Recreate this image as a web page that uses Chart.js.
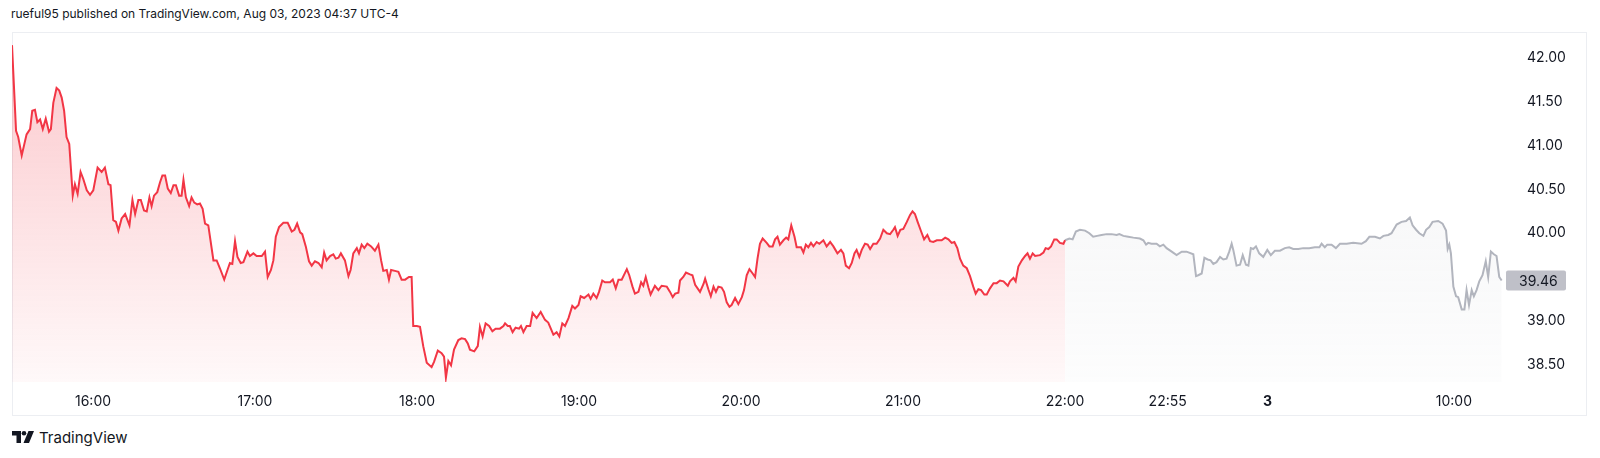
<!DOCTYPE html>
<html>
<head>
<meta charset="utf-8">
<script src="https://cdn.jsdelivr.net/npm/chart.js@4.4.1/dist/chart.umd.min.js"></script>
<style>
  html, body { margin: 0; padding: 0; background: #ffffff; }
  body { width: 1600px; height: 458px; position: relative; overflow: hidden; font-family: Inter, "Noto Sans", sans-serif; color: #131722; }
  #header { position: absolute; left: 11px; top: 5px; font-size: 12px; line-height: 18px; white-space: nowrap; }
  #frame { position: absolute; left: 12px; top: 32px; width: 1575px; height: 384px; box-sizing: border-box; border: 1px solid #eceef2; }
  #chartBox { position: absolute; left: 12px; top: 32px; width: 1575px; height: 384px; }
  #footer { position: absolute; left: 12px; top: 427px; height: 20px; display: flex; align-items: center; font-size: 15px; font-weight: 400; }
  #footer svg { margin-right: 5px; }
</style>
</head>
<body>
<div id="header">rueful95 published on TradingView.com, Aug 03, 2023 04:37 UTC-4</div>
<div id="frame"></div>
<div id="chartBox"><canvas id="priceChart" width="1575" height="384"></canvas></div>
<div id="footer">
  <svg width="22" height="12" viewBox="0 0 22 12"><path d="M0 0h9v12H4.5V4.5H0z" fill="#131722"/><circle cx="12" cy="2.3" r="2.3" fill="#131722"/><path d="M16.5 0H22l-5 12h-5.5z" fill="#131722"/></svg>
  <span>TradingView</span>
</div>
<script>
// sumbu waktu: menit sejak 15:30 (skala bar TradingView, sesi malam dipadatkan)
const redTime = [0, 1.5, 2.3, 3.6, 5.4, 6.7, 7.5, 8.5, 9.4, 10.4, 11.4, 12.5, 13.7, 14.4, 15.3, 16.5, 17.5, 18.4, 19.3, 20.2,
  21.2, 22.5, 23.3, 24.3, 25.4, 26.4, 27.7, 28.9, 30.1, 31.7, 33.2, 34.4, 35.7, 36.5, 37.5, 38.5, 39.4, 40.6, 41.9, 43.5,
  44.6, 45.6, 46.8, 47.7, 48.9, 49.9, 50.9, 51.7, 52.6, 53.8, 54.8, 55.7, 56.7, 57.7, 58.8, 59.8, 60.7, 61.9, 62.8, 63.5,
  64.4, 65.6, 66.5, 67.5, 68.6, 69.6, 70.6, 71.5, 72.7, 74.6, 75.8, 77.0, 78.6, 79.8, 80.7, 81.6, 82.6, 83.5, 84.7, 85.7,
  87.2, 88.1, 89.4, 90.6, 92.5, 93.7, 94.7, 95.9, 96.8, 97.7, 98.9, 100.5, 102.1, 103.6, 104.6, 105.6, 106.7, 107.5, 108.8, 110.0,
  111.0, 112.2, 113.5, 114.7, 115.6, 116.5, 117.8, 119.0, 119.9, 120.9, 121.8, 123.3, 124.6, 125.4, 126.4, 127.7, 128.5, 129.5, 130.5, 131.6,
  133.0, 134.4, 135.7, 136.7, 137.5, 138.8, 139.6, 140.4, 141.8, 143.1, 144.3, 145.6, 147.0, 148.0, 148.6, 149.9, 151.1, 152.3, 153.6, 155.4,
  156.3, 157.7, 159.1, 160.0, 160.7, 161.6, 162.6, 163.7, 165.3, 166.5, 167.8, 168.8, 169.6, 171.2, 172.5, 173.3, 174.3, 175.4, 176.7, 177.9,
  179.1, 180.7, 182.0, 182.6, 183.6, 184.4, 185.4, 186.5, 187.8, 188.5, 189.4, 190.6, 191.9, 192.8, 194.3, 195.8, 197.4, 198.6, 200.5, 201.7,
  202.7, 203.8, 204.8, 206.1, 207.5, 208.5, 209.8, 210.6, 211.9, 213.5, 214.3, 215.3, 216.5, 217.4, 218.6, 219.6, 221.5, 222.5, 223.6, 224.6,
  225.8, 227.7, 228.6, 229.8, 230.7, 232.0, 233.0, 233.8, 234.7, 235.7, 236.5, 238.1, 239.4, 240.6, 242.5, 243.7, 244.7, 245.6, 246.8, 247.4,
  248.6, 249.6, 251.1, 252.0, 253.0, 254.8, 256.1, 256.7, 257.9, 258.8, 259.8, 260.7, 261.6, 262.8, 263.7, 264.7, 265.7, 266.5, 267.8, 269.0,
  270.3, 271.1, 272.1, 273.1, 274.3, 275.2, 276.1, 277.0, 278.0, 279.5, 280.5, 281.7, 282.6, 283.5, 284.4, 285.7, 286.7, 287.5, 288.6, 289.8,
  290.6, 292.2, 293.1, 294.0, 294.9, 295.9, 296.8, 298.0, 299.0, 300.5, 301.7, 303.0, 304.2, 305.7, 307.0, 307.9, 308.8, 310.0, 311.0, 312.0,
  312.8, 313.8, 314.7, 315.9, 316.9, 317.8, 319.0, 320.2, 321.5, 322.7, 324.0, 325.2, 326.4, 327.0, 328.0, 329.0, 330.1, 331.4, 332.6, 333.5,
  334.4, 335.4, 336.7, 337.8, 339.0, 340.0, 341.2, 342.5, 344.3, 345.6, 346.8, 348.0, 349.0, 350.1, 351.1, 352.3, 353.6, 354.8, 356.0, 356.9,
  357.9, 358.9, 360.1, 361.0, 362.2, 363.5, 364.7, 365.9, 367.2, 368.8, 369.6, 370.9, 371.7, 372.7, 374.0, 375.2, 376.1, 377.0, 378.0, 378.9,
  380.7, 382.0, 382.8, 383.8, 384.8, 386.0, 386.9, 388.1, 389.4, 390.0];
const redPrice = [42.15, 41.17, 41.10, 40.89, 41.13, 41.19, 41.40, 41.41, 41.27, 41.30, 41.19, 41.31, 41.16, 41.19, 41.49, 41.66, 41.63, 41.55, 41.40, 41.10,
  41.02, 40.43, 40.56, 40.45, 40.70, 40.62, 40.49, 40.44, 40.49, 40.75, 40.70, 40.75, 40.56, 40.55, 40.15, 40.13, 40.03, 40.17, 40.22, 40.09,
  40.38, 40.22, 40.38, 40.38, 40.26, 40.25, 40.41, 40.31, 40.43, 40.47, 40.58, 40.66, 40.66, 40.51, 40.46, 40.55, 40.55, 40.43, 40.43, 40.61,
  40.41, 40.31, 40.41, 40.35, 40.33, 40.34, 40.28, 40.11, 40.09, 39.69, 39.69, 39.60, 39.47, 39.58, 39.66, 39.65, 39.91, 39.73, 39.66, 39.67,
  39.79, 39.74, 39.77, 39.74, 39.74, 39.79, 39.50, 39.58, 39.69, 39.96, 40.07, 40.12, 40.12, 40.02, 40.04, 40.11, 40.01, 39.99, 39.85, 39.68,
  39.63, 39.68, 39.66, 39.61, 39.78, 39.69, 39.74, 39.76, 39.71, 39.72, 39.77, 39.69, 39.51, 39.58, 39.77, 39.83, 39.77, 39.87, 39.83, 39.88,
  39.85, 39.80, 39.87, 39.69, 39.57, 39.58, 39.47, 39.58, 39.57, 39.56, 39.47, 39.47, 39.50, 39.50, 38.94, 38.94, 38.93, 38.71, 38.52, 38.47,
  38.53, 38.66, 38.63, 38.59, 38.35, 38.54, 38.49, 38.67, 38.78, 38.80, 38.79, 38.74, 38.67, 38.65, 38.71, 38.93, 38.82, 38.97, 38.94, 38.88,
  38.91, 38.91, 38.94, 38.97, 38.94, 38.94, 38.87, 38.92, 38.91, 38.94, 38.87, 38.94, 38.94, 39.09, 39.03, 39.10, 39.01, 38.98, 38.84, 38.87,
  38.82, 38.97, 38.94, 39.03, 39.17, 39.14, 39.18, 39.28, 39.26, 39.30, 39.25, 39.31, 39.26, 39.33, 39.46, 39.44, 39.44, 39.47, 39.37, 39.47,
  39.47, 39.59, 39.52, 39.39, 39.31, 39.33, 39.44, 39.40, 39.50, 39.38, 39.30, 39.40, 39.35, 39.40, 39.39, 39.33, 39.27, 39.31, 39.32, 39.46,
  39.50, 39.55, 39.53, 39.52, 39.41, 39.33, 39.42, 39.48, 39.36, 39.28, 39.39, 39.33, 39.39, 39.38, 39.33, 39.21, 39.16, 39.18, 39.26, 39.19,
  39.27, 39.35, 39.52, 39.59, 39.54, 39.50, 39.71, 39.88, 39.94, 39.89, 39.85, 39.85, 39.93, 39.96, 39.87, 39.92, 39.95, 39.93, 40.09, 39.96,
  39.84, 39.84, 39.78, 39.87, 39.84, 39.89, 39.85, 39.90, 39.88, 39.92, 39.85, 39.90, 39.85, 39.77, 39.81, 39.77, 39.63, 39.60, 39.66, 39.77,
  39.81, 39.73, 39.81, 39.88, 39.87, 39.82, 39.88, 39.88, 39.94, 40.04, 40.00, 39.99, 40.04, 40.07, 39.97, 40.04, 40.05, 40.13, 40.21, 40.25,
  40.22, 40.13, 40.02, 39.93, 39.98, 39.91, 39.90, 39.92, 39.92, 39.95, 39.93, 39.89, 39.90, 39.83, 39.71, 39.63, 39.60, 39.51, 39.39, 39.31,
  39.36, 39.35, 39.30, 39.30, 39.37, 39.43, 39.43, 39.46, 39.45, 39.40, 39.45, 39.49, 39.45, 39.62, 39.69, 39.74, 39.77, 39.71, 39.77, 39.74,
  39.75, 39.78, 39.83, 39.82, 39.85, 39.93, 39.93, 39.89, 39.88, 39.92];

const grayTime = [390.0, 391.6, 392.8, 394.0, 395.5, 397.4, 399.0, 400.4, 401.9, 403.5, 405.4, 407.2, 409.1, 410.1, 411.6, 413.4, 415.3, 417.7, 419.0, 420.0,
  420.8, 422.0, 423.9, 425.1, 426.4, 427.6, 429.5, 431.3, 433.2, 435.0, 437.5, 438.5, 439.3, 440.6, 441.6, 442.8, 443.9, 444.9, 446.1, 447.4,
  448.6, 449.8, 450.8, 451.7, 452.3, 453.5, 454.8, 455.8, 457.0, 457.9, 458.8, 459.7, 460.7, 461.9, 463.4, 464.9, 466.2, 467.7, 469.6, 471.4,
  473.0, 474.5, 476.4, 478.2, 480.4, 482.5, 484.2, 485.0, 486.2, 487.1, 488.7, 490.3, 491.8, 494.3, 496.7, 499.8, 501.4, 502.7, 504.8, 506.6,
  507.9, 509.7, 510.9, 512.8, 514.6, 516.3, 517.7, 518.7, 520.0, 521.2, 522.7, 523.7, 524.9, 526.1, 528.2, 529.8, 531.1, 531.7, 532.3, 532.9,
  533.8, 534.8, 535.6, 536.9, 537.9, 538.7, 539.6, 540.6, 541.4, 542.4, 543.4, 544.6, 545.8, 546.7, 547.7, 548.8, 549.8, 550.8, 551.7];
const grayPrice = [39.92, 39.94, 39.93, 40.02, 40.04, 40.03, 40.00, 39.96, 39.97, 39.98, 39.99, 39.99, 39.98, 39.99, 39.97, 39.96, 39.95, 39.94, 39.92, 39.87,
  39.89, 39.88, 39.88, 39.85, 39.87, 39.83, 39.79, 39.75, 39.79, 39.79, 39.76, 39.51, 39.52, 39.54, 39.72, 39.70, 39.69, 39.65, 39.67, 39.73,
  39.70, 39.71, 39.79, 39.88, 39.81, 39.63, 39.64, 39.75, 39.64, 39.63, 39.83, 39.82, 39.85, 39.77, 39.73, 39.81, 39.75, 39.80, 39.80, 39.83,
  39.84, 39.82, 39.82, 39.83, 39.83, 39.84, 39.84, 39.88, 39.84, 39.87, 39.87, 39.83, 39.88, 39.88, 39.89, 39.88, 39.91, 39.96, 39.96, 39.94,
  39.97, 39.98, 40.00, 40.10, 40.13, 40.14, 40.18, 40.09, 40.04, 40.00, 39.97, 40.04, 40.07, 40.13, 40.14, 40.11, 40.03, 39.82, 39.87, 39.77,
  39.39, 39.28, 39.27, 39.13, 39.13, 39.35, 39.18, 39.35, 39.28, 39.35, 39.45, 39.52, 39.68, 39.50, 39.79, 39.76, 39.74, 39.50, 39.46];

const timeTicks = [30, 90, 150, 210, 270, 330, 390, 428, 465, 534];
const timeLabels = ['16:00', '17:00', '18:00', '19:00', '20:00', '21:00', '22:00', '22:55', '3', '10:00'];
// 39.50 tidak tampil karena tertutup label harga terakhir
const priceTicks = [38.5, 39, 40, 40.5, 41, 41.5, 42];
const lastPrice = 39.46;

const FONT = 'Inter, "Noto Sans", sans-serif';
const RED = '#f23645';
const GRAY = '#b2b5be';

function toPoints(times, prices) {
    return times.map((t, i) => ({ x: t, y: prices[i] }));
}

function areaGradient(rgb, topA, botA) {
    return function(context) {
        const chart = context.chart;
        const area = chart.chartArea;
        if (!area) return null;
        const g = chart.ctx.createLinearGradient(0, area.top, 0, area.bottom);
        g.addColorStop(0, `rgba(${rgb},${topA})`);
        g.addColorStop(1, `rgba(${rgb},${botA})`);
        return g;
    };
}

// label harga terakhir di sumbu kanan
const lastPriceBadge = {
    id: 'lastPriceBadge',
    afterDraw(chart) {
        const ctx = chart.ctx;
        const y = chart.scales.y.getPixelForValue(lastPrice);
        const x = chart.chartArea.right;
        ctx.save();
        ctx.fillStyle = '#bfc0c8';
        ctx.beginPath();
        ctx.roundRect(x, y - 10, 60, 20, 2);
        ctx.fill();
        ctx.fillStyle = '#131722';
        ctx.font = '14px ' + FONT;
        ctx.textBaseline = 'middle';
        ctx.fillText(lastPrice.toFixed(2), x + 13, y + 1);
        ctx.restore();
    }
};

new Chart(document.getElementById('priceChart'), {
    type: 'line',
    data: {
        datasets: [
            {
                data: toPoints(redTime, redPrice),
                borderColor: RED,
                borderWidth: 2,
                pointRadius: 0,
                fill: 'start',
                backgroundColor: areaGradient('242,54,69', 0.28, 0.03)
            },
            {
                data: toPoints(grayTime, grayPrice),
                borderColor: GRAY,
                borderWidth: 2,
                pointRadius: 0,
                fill: 'start',
                backgroundColor: areaGradient('178,181,190', 0.16, 0.03)
            }
        ]
    },
    plugins: [lastPriceBadge],
    options: {
        responsive: false,
        animation: false,
        layout: { padding: 0 },
        plugins: { legend: { display: false }, tooltip: { enabled: false } },
        scales: {
            x: {
                type: 'linear',
                min: 0,
                max: 553.3,
                grid: { display: false },
                border: { display: false },
                afterBuildTicks: (scale) => { scale.ticks = timeTicks.map(v => ({ value: v })); },
                afterFit: (scale) => { scale.height = 34; },
                ticks: {
                    autoSkip: false,
                    maxRotation: 0,
                    padding: 3,
                    color: '#131722',
                    font: (c) => ({ family: FONT, size: 14, weight: c.index === 8 ? 'bold' : 'normal' }),
                    callback: (value, index) => timeLabels[index]
                }
            },
            y: {
                position: 'right',
                min: 38.30,
                max: 42.30,
                grid: { display: false },
                border: { display: false },
                afterBuildTicks: (scale) => { scale.ticks = priceTicks.map(v => ({ value: v })); },
                afterFit: (scale) => {
                    scale.width = 81;
                    scale.paddingTop = 0;
                    scale.paddingBottom = 0;
                },
                ticks: {
                    padding: 13,
                    color: '#131722',
                    font: { family: FONT, size: 14 },
                    callback: (value) => value.toFixed(2)
                }
            }
        }
    }
});
</script>
</body>
</html>
